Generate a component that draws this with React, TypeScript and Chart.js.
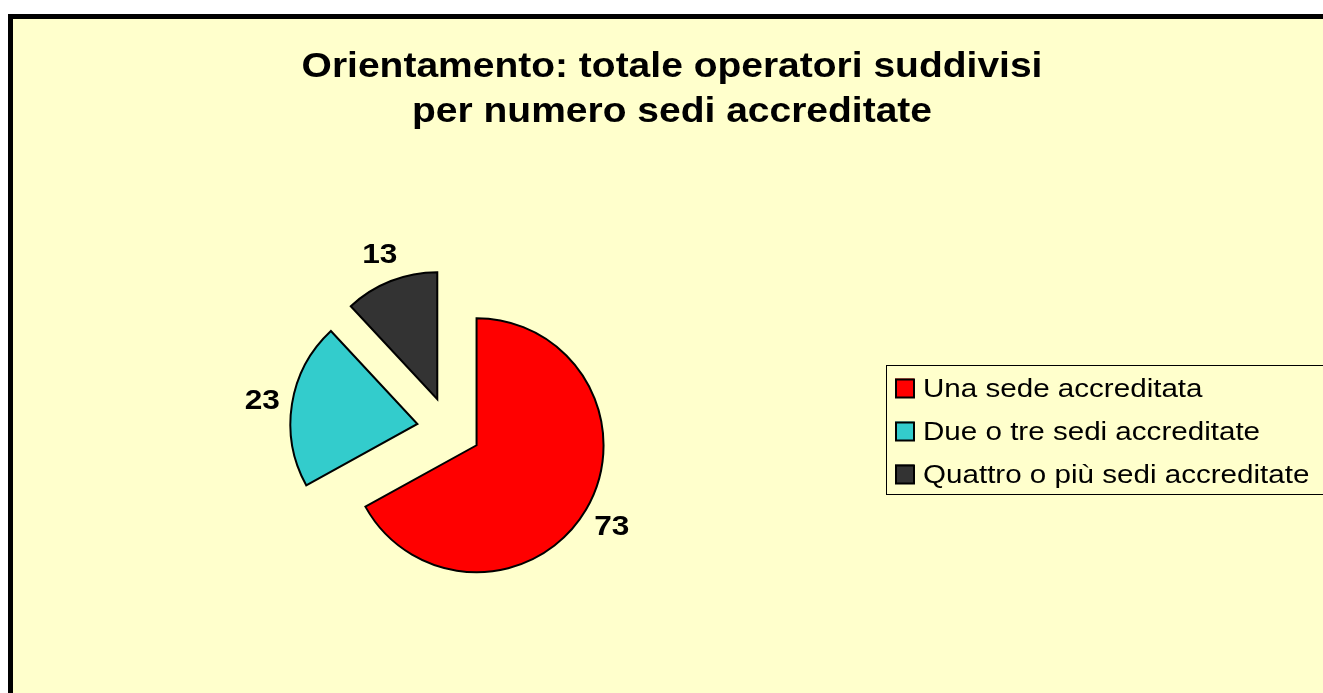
import React, { useEffect, useRef } from "react";
import { Chart, registerables } from "chart.js";

Chart.register(...registerables);

// ---- data ----
const TITLE_LINES = ["Orientamento: totale operatori suddivisi", "per numero sedi accreditate"];
const CATEGORIES = ["Una sede accreditata", "Due o tre sedi accreditate", "Quattro o più sedi accreditate"];
const VALUES = [73, 23, 13];
const COLORS = ["#FF0000", "#33CCCC", "#333333"];

// ---- layout ----
const W = 1323;
const H = 693;
const CX = 449;
const CY = 429;
const R = 127;
const EXPLODE = 32;
const LABEL_GAP = 30;
const FONT = '"Liberation Sans", Arial, sans-serif';

function drawText(ctx: any, text: string, x: number, y: number, font: string, scaleX: number, align: string) {
  ctx.save();
  ctx.font = font;
  ctx.textAlign = "left";
  ctx.textBaseline = "alphabetic";
  const w = ctx.measureText(text).width * scaleX;
  let left = x;
  if (align === "center") left = x - w / 2;
  else if (align === "right") left = x - w;
  ctx.translate(left, y);
  ctx.scale(scaleX, 1);
  ctx.fillStyle = "#000";
  ctx.fillText(text, 0, 0);
  ctx.restore();
}

const framePlugin = {
  id: "frame",
  beforeDraw(chart: any) {
    const ctx = chart.ctx;
    ctx.save();
    ctx.fillStyle = "#FFFFFF";
    ctx.fillRect(0, 0, W, H);
    ctx.fillStyle = "#FFFFCC";
    ctx.fillRect(10, 16, W + 20, H + 20);
    ctx.strokeStyle = "#000";
    ctx.lineWidth = 5;
    ctx.strokeRect(10.5, 16.5, W + 20, H + 20);
    ctx.restore();
    const tf = `bold 34.5px ${FONT}`;
    drawText(ctx, TITLE_LINES[0], 672, 77, tf, 1.13, "center");
    drawText(ctx, TITLE_LINES[1], 672, 122, tf, 1.13, "center");
  },
};

const explodePlugin = {
  id: "explode",
  beforeDatasetDraw(chart: any, args: any) {
    const ctx = chart.ctx;
    args.meta.data.forEach((arc: any) => {
      const mid = (arc.startAngle + arc.endAngle) / 2;
      ctx.save();
      ctx.translate(Math.cos(mid) * EXPLODE, Math.sin(mid) * EXPLODE);
      arc.draw(ctx);
      ctx.restore();
    });
    return false;
  },
};

const labelsPlugin = {
  id: "sliceLabels",
  afterDatasetsDraw(chart: any) {
    const ctx = chart.ctx;
    const meta = chart.getDatasetMeta(0);
    const values = chart.data.datasets[0].data;
    const font = `bold 27.5px ${FONT}`;
    meta.data.forEach((arc: any, i: number) => {
      const mid = (arc.startAngle + arc.endAngle) / 2;
      const d = EXPLODE + arc.outerRadius + LABEL_GAP;
      const x = arc.x + Math.cos(mid) * d;
      const y = arc.y + Math.sin(mid) * d;
      drawText(ctx, String(values[i]), x, y + 10, font, 1.15, "center");
    });
  },
};

const legendPlugin = {
  id: "boxLegend",
  afterDraw(chart: any) {
    const ctx = chart.ctx;
    const labels = chart.data.labels;
    const colors = chart.data.datasets[0].backgroundColor;
    ctx.save();
    ctx.strokeStyle = "#000";
    ctx.lineWidth = 1;
    ctx.strokeRect(886.5, 365.5, 500, 129);
    labels.forEach((lab: string, i: number) => {
      const cy = 388 + i * 43;
      ctx.fillStyle = colors[i];
      ctx.fillRect(895, cy - 9.5, 19, 19);
      ctx.lineWidth = 2;
      ctx.strokeStyle = "#000";
      ctx.strokeRect(896, cy - 8.5, 18, 18);
      drawText(ctx, lab, 923, cy + 9, `25.5px ${FONT}`, 1.16, "left");
    });
    ctx.restore();
  },
};

export default function App() {
  const ref = useRef<HTMLCanvasElement | null>(null);
  useEffect(() => {
    if (!ref.current) return;
    const chart = new Chart(ref.current, {
      type: "pie",
      data: {
        labels: CATEGORIES,
        datasets: [
          {
            data: VALUES,
            backgroundColor: COLORS,
            borderColor: "#000000",
            borderWidth: 2,
            borderJoinStyle: "miter",
          } as any,
        ],
      },
      options: {
        responsive: false,
        animation: false,
        events: [],
        radius: R,
        layout: {
          padding: {
            left: CX - 200,
            right: W - (CX + 200),
            top: CY - 200,
            bottom: H - (CY + 200),
          },
        },
        plugins: {
          legend: { display: false },
          title: { display: false },
          tooltip: { enabled: false },
        },
      } as any,
      plugins: [framePlugin, explodePlugin, labelsPlugin, legendPlugin],
    });
    return () => chart.destroy();
  }, []);
  return (
    <div style={{ position: "absolute", left: 0, top: 0, width: W, height: H }}>
      <canvas ref={ref} width={W} height={H} style={{ display: "block" }} />
    </div>
  );
}
